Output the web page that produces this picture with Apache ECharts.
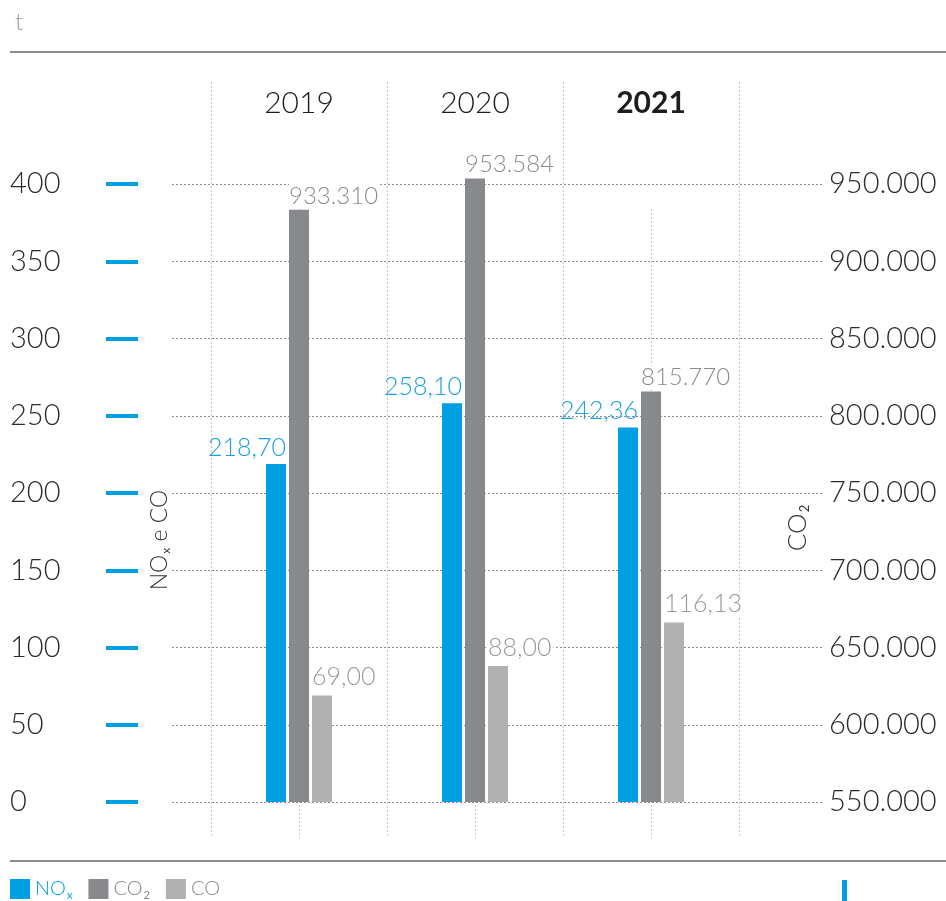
<!DOCTYPE html>
<html>
<head>
<meta charset="utf-8">
<script src="https://cdn.jsdelivr.net/npm/echarts@6/dist/echarts.min.js"></script>
<style>
  html, body { margin: 0; padding: 0; background: #fff; }
  #chart { width: 946px; height: 901px; }
</style>
</head>
<body>
<div id="chart"></div>
<script>
const years = ['2019', '2020', '2021']
const nox = [218.70, 258.10, 242.36]
const co2 = [933310, 953584, 815770]
const co = [69.00, 88.00, 116.13]
const leftTicks = { min: 0, max: 400, interval: 50 }
const rightTicks = { min: 550000, max: 950000, interval: 50000 }

const font = 'Lato, "Open Sans", sans-serif'
const blue = '#009fe3'
const dark = '#88898d'
const light = '#b1b1b1'

const dec = v => v.toFixed(2).replace('.', ',')
const thousands = v => String(v).replace(/\B(?=(\d{3})+(?!\d))/g, '.')

const dotted = c => ({ show: true, lineStyle: { color: c, type: [2, 2], width: 1 } })
const hidden = { axisLine: { show: false }, axisTick: { show: false }, axisLabel: { show: false }, splitLine: { show: false } }

// plot area: one extra step above the top tick so the 2020 CO2 bar is not clipped
const step = 618 / 8
const chart = echarts.init(document.getElementById('chart'))

chart.setOption({
  animation: false,
  textStyle: { fontFamily: font },
  grid: [
    { left: 211, right: 207, top: 184 - step, bottom: 99 }, // bars
    { left: 172, right: 123, top: 184, bottom: 99 },        // horizontal lines + right axis
    { left: 211, right: 207, top: 82, bottom: 63 },         // category borders + year labels
    { left: 299, right: 295, top: 209, bottom: 63 },        // category centers
    { left: 138, right: 123, top: 184, bottom: 99 }         // left axis with blue ticks
  ],
  xAxis: [
    { type: 'category', gridIndex: 0, data: years, ...hidden },
    { type: 'value', gridIndex: 1, min: 0, max: 1, show: false },
    { type: 'value', gridIndex: 2, min: 0, max: 3, interval: 1, ...hidden, splitLine: dotted('#c4c4c4') },
    { type: 'value', gridIndex: 3, min: 0, max: 2, interval: 1, ...hidden, splitLine: dotted('#c4c4c4') },
    {
      type: 'category', gridIndex: 2, position: 'top',
      data: years.map((y, i) => i === years.length - 1
        ? { value: y, textStyle: { fontWeight: 'bold' } } : y),
      axisLine: { show: false }, axisTick: { show: false }, splitLine: { show: false },
      axisLabel: { inside: true, margin: 6, fontSize: 30, color: '#1d1d1d', fontFamily: font, fontWeight: 300 }
    },
    { type: 'value', gridIndex: 4, min: 0, max: 1, show: false }
  ],
  yAxis: [
    { type: 'value', gridIndex: 0, min: 0, max: 450, interval: 50, ...hidden },
    { type: 'value', gridIndex: 0, position: 'right', min: 550000, max: 1000000, interval: 50000, ...hidden },
    {
      type: 'value', gridIndex: 1, position: 'left', ...leftTicks,
      axisLine: { show: false }, axisTick: { show: false }, axisLabel: { show: false },
      splitLine: dotted('#8f8f8f')
    },
    {
      type: 'value', gridIndex: 1, position: 'right', ...rightTicks,
      axisLine: { show: false }, axisTick: { show: false }, splitLine: { show: false },
      axisLabel: { margin: 6, align: 'left', fontSize: 29, color: '#2b2b2b', fontWeight: 300, formatter: thousands }
    },
    { type: 'value', gridIndex: 2, min: 0, max: 1, show: false },
    { type: 'value', gridIndex: 3, min: 0, max: 1, show: false },
    {
      type: 'value', gridIndex: 4, position: 'left', ...leftTicks,
      axisLine: { show: false }, splitLine: { show: false },
      axisTick: { show: true, inside: false, length: 32, lineStyle: { color: blue, width: 4 } },
      axisLabel: { margin: 128, align: 'left', fontSize: 29, color: '#2b2b2b', fontWeight: 300 }
    }
  ],
  legend: {
    left: 10, top: 879, padding: 0, itemWidth: 20, itemHeight: 20, itemGap: 16, icon: 'rect',
    selectedMode: false,
    data: [
      { name: 'NOx', textStyle: { color: blue } },
      { name: 'CO2', textStyle: { color: '#8a8a8a' } },
      { name: 'CO', textStyle: { color: '#8a8a8a' } }
    ],
    formatter: n => n === 'NOx' ? '{m|NO}{s|x}' : n === 'CO2' ? '{m|CO}{s|2}' : '{m|CO}',
    textStyle: {
      fontFamily: font,
      rich: { m: { fontSize: 20, fontWeight: 300 }, s: { fontSize: 11, padding: [12, 0, 0, 1] } }
    }
  },
  series: [
    {
      name: 'NOx', type: 'bar', xAxisIndex: 0, yAxisIndex: 0, data: nox,
      barWidth: 20, barGap: '15%', itemStyle: { color: blue },
      label: {
        show: true, position: ['100%', -4], align: 'right', verticalAlign: 'bottom',
        fontSize: 25, color: '#1a9fe0', fontWeight: 300, formatter: p => dec(p.value)
      }
    },
    {
      name: 'CO2', type: 'bar', xAxisIndex: 0, yAxisIndex: 1, data: co2,
      barWidth: 20, barGap: '15%', itemStyle: { color: dark }, z: 3,
      label: {
        show: true, position: [0, -2], align: 'left', verticalAlign: 'bottom',
        fontSize: 24, color: '#8c8c8c', fontWeight: 300, backgroundColor: '#fff',
        padding: [0, 2, 0, 0], formatter: p => thousands(p.value)
      }
    },
    {
      name: 'CO', type: 'bar', xAxisIndex: 0, yAxisIndex: 0, data: co,
      barWidth: 20, barGap: '15%', itemStyle: { color: light },
      label: {
        show: true, position: [0, -6], align: 'left', verticalAlign: 'bottom',
        fontSize: 25, color: '#9a9a9a', fontWeight: 300, backgroundColor: '#fff',
        padding: [0, 2, 0, 0], formatter: p => dec(p.value)
      }
    }
  ],
  graphic: [
    { type: 'text', left: 15, top: 10, style: { text: 't', fontSize: 24, fill: '#9a9a9a', fontFamily: font, fontWeight: 300 } },
    { type: 'line', shape: { x1: 10, y1: 52, x2: 946, y2: 52 }, style: { stroke: '#8c8c8c', lineWidth: 2 } },
    { type: 'line', shape: { x1: 10, y1: 861, x2: 946, y2: 861 }, style: { stroke: '#8c8c8c', lineWidth: 2 } },
    { type: 'rect', shape: { x: 842, y: 880, width: 5, height: 21 }, style: { fill: blue } },
    {
      type: 'text', x: 160, y: 540, rotation: Math.PI / 2,
      style: {
        text: '{m|NO}{s|x}{m| e CO}', align: 'center', verticalAlign: 'middle', fill: '#333',
        fontFamily: font,
        rich: { m: { fontSize: 23, fontWeight: 300, fontFamily: font }, s: { fontSize: 12, padding: [12, 0, 0, 1], fontFamily: font } }
      }
    },
    {
      type: 'text', x: 798, y: 528, rotation: Math.PI / 2,
      style: {
        text: '{m|CO}{s|2}', align: 'center', verticalAlign: 'middle', fill: '#333',
        fontFamily: font,
        rich: { m: { fontSize: 26, fontWeight: 300, fontFamily: font }, s: { fontSize: 13, padding: [14, 0, 0, 1], fontFamily: font } }
      }
    }
  ]
})
</script>
</body>
</html>
